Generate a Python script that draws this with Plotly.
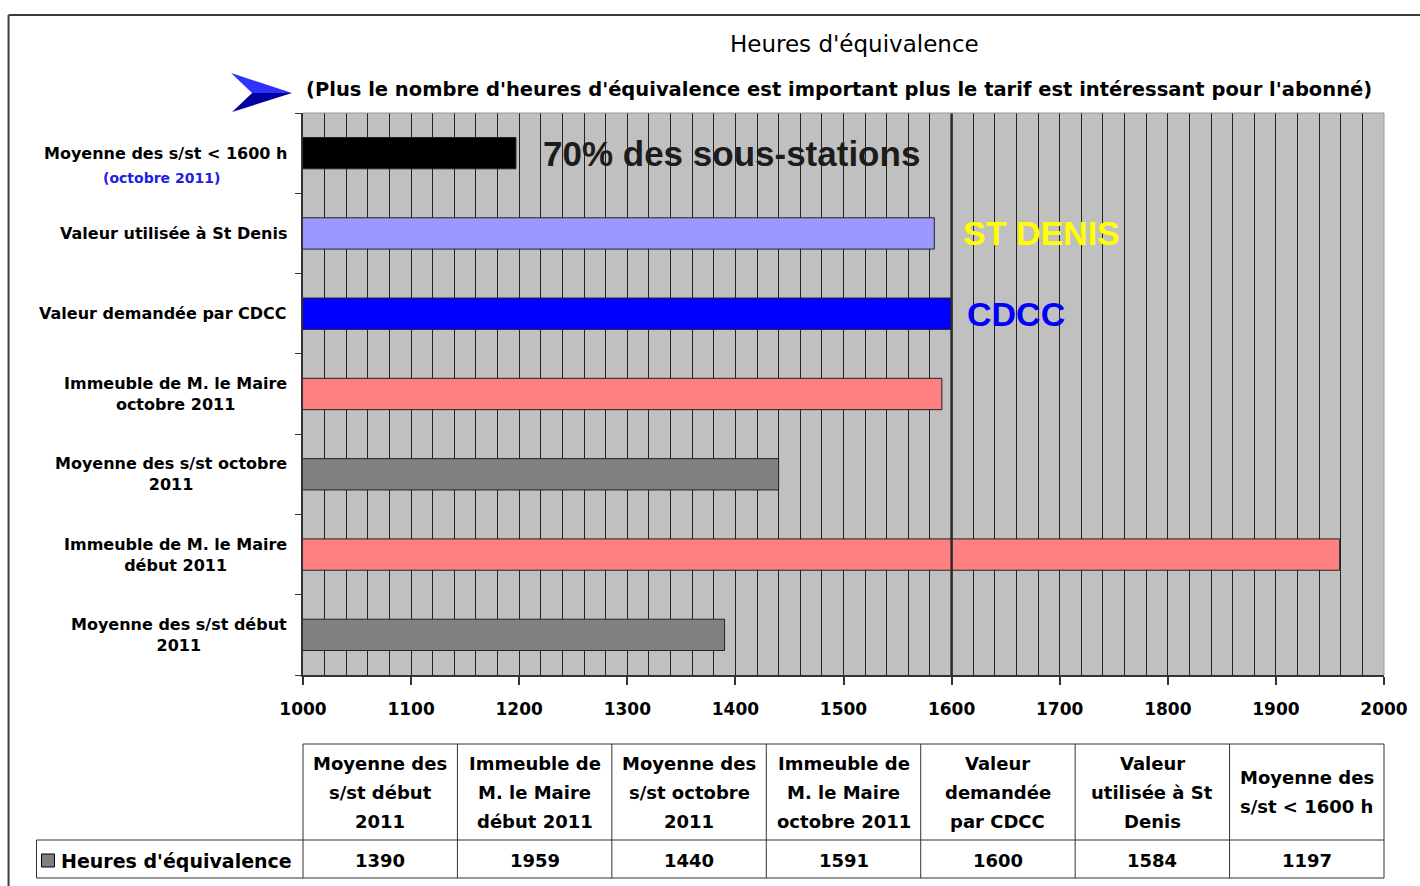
import plotly.graph_objects as go

# ---------------- data ----------------
categories = [
    "Moyenne des s/st début 2011",
    "Immeuble de M. le Maire début 2011",
    "Moyenne des s/st octobre 2011",
    "Immeuble de M. le Maire octobre 2011",
    "Valeur demandée par CDCC",
    "Valeur utilisée à St Denis",
    "Moyenne des s/st < 1600 h",
]
values = [1390, 1959, 1440, 1591, 1600, 1584, 1197]
axis_label_lines = [
    ["Moyenne des s/st début", "2011"],
    ["Immeuble de M. le Maire", "début 2011"],
    ["Moyenne des s/st octobre", "2011"],
    ["Immeuble de M. le Maire", "octobre 2011"],
    ["Valeur demandée par CDCC"],
    ["Valeur utilisée à St Denis"],
    ["Moyenne des s/st < 1600 h"],
]
table_header_lines = [
    ["Moyenne des", "s/st début", "2011"],
    ["Immeuble de", "M. le Maire", "début 2011"],
    ["Moyenne des", "s/st octobre", "2011"],
    ["Immeuble de", "M. le Maire", "octobre 2011"],
    ["Valeur", "demandée", "par CDCC"],
    ["Valeur", "utilisée à St", "Denis"],
    ["Moyenne des", "s/st < 1600 h"],
]
x_ticks = [1000, 1100, 1200, 1300, 1400, 1500, 1600, 1700, 1800, 1900, 2000]
series_name = "Heures d'équivalence"
title_text = "Heures d'équivalence"
subtitle_text = ("(Plus le nombre d'heures d'équivalence est important plus le tarif "
                 "est intéressant pour l'abonné)")
note_first = "(octobre 2011)"
callouts = ["70% des sous-stations", "ST DENIS", "CDCC"]

# ---------------- styles ----------------
bar_colors = ["#808080", "#FF8080", "#808080", "#FF8080", "#0000FF", "#9999FF", "#000000"]

W, H = 1420, 886
L, R, T, B = 303, 34, 113, 211
PW, PH = W - L - R, H - T - B


def fx(p):
    return (p - L) / PW


def fy(p):
    return (H - B - p) / PH


def esc(s):
    return s.replace("<", "&lt;")


FONT = "DejaVu Sans"

fig = go.Figure()
fig.add_trace(go.Bar(
    x=values, y=categories, orientation="h", name=series_name,
    marker=dict(color=bar_colors, line=dict(color="#222222", width=1)),
    width=0.39, showlegend=False, hoverinfo="x+y",
))

shapes = []
annotations = []

# 1600 reference line
shapes.append(dict(type="line", xref="x", yref="paper", x0=1600, x1=1600, y0=0, y1=1,
                   line=dict(color="#2a2a2a", width=2.5), layer="above"))
# top/right plot border
shapes.append(dict(type="line", xref="paper", yref="paper", x0=0, x1=1, y0=1, y1=1,
                   line=dict(color="#9a9a9a", width=1)))
shapes.append(dict(type="line", xref="paper", yref="paper", x0=1, x1=1, y0=0, y1=1,
                   line=dict(color="#9a9a9a", width=1)))
# outer frame
shapes.append(dict(type="line", xref="paper", yref="paper", x0=fx(8), x1=fx(1425), y0=fy(15), y1=fy(15),
                   line=dict(color="#3c3c3c", width=2)))
shapes.append(dict(type="line", xref="paper", yref="paper", x0=fx(8), x1=fx(8), y0=fy(15), y1=fy(890),
                   line=dict(color="#3c3c3c", width=2)))

# arrow (two halves)
def path(pts):
    return "M " + " L ".join(f"{fx(a):.5f},{fy(b):.5f}" for a, b in pts) + " Z"

shapes.append(dict(type="path", xref="paper", yref="paper",
                   path=path([(231, 73), (292, 93), (252, 93)]),
                   fillcolor="#3030FF", line=dict(width=0)))
shapes.append(dict(type="path", xref="paper", yref="paper",
                   path=path([(252, 93), (292, 93), (232, 112)]),
                   fillcolor="#0000A0", line=dict(width=0)))

# table grid
tc = "#333333"
shapes.append(dict(type="line", xref="paper", yref="paper", x0=0, x1=1, y0=fy(744), y1=fy(744),
                   line=dict(color=tc, width=1)))
for yy in (840, 878):
    shapes.append(dict(type="line", xref="paper", yref="paper", x0=fx(36), x1=1, y0=fy(yy), y1=fy(yy),
                       line=dict(color=tc, width=1)))
shapes.append(dict(type="line", xref="paper", yref="paper", x0=fx(36), x1=fx(36), y0=fy(840), y1=fy(878),
                   line=dict(color=tc, width=1)))
n = len(categories)
for i in range(n + 1):
    shapes.append(dict(type="line", xref="paper", yref="paper", x0=i / n, x1=i / n, y0=fy(744), y1=fy(878),
                       line=dict(color=tc, width=1)))
# legend key
shapes.append(dict(type="rect", xref="paper", yref="paper", x0=fx(41), x1=fx(54), y0=fy(867), y1=fy(854),
                   fillcolor="#808080", line=dict(color="#000000", width=1)))

# table header and values
for i, lines in enumerate(table_header_lines):
    k = len(lines)
    for j, ln in enumerate(lines):
        ypix = 792 + (j - (k - 1) / 2) * 29
        annotations.append(dict(xref="paper", yref="paper", x=(i + 0.5) / n, y=fy(ypix),
                                text="<b>" + esc(ln) + "</b>", showarrow=False,
                                xanchor="center", yanchor="middle",
                                font=dict(family=FONT, size=18, color="#000")))
    annotations.append(dict(xref="paper", yref="paper", x=(i + 0.5) / n, y=fy(860),
                            text="<b>" + str(values[i]) + "</b>", showarrow=False,
                            xanchor="center", yanchor="middle",
                            font=dict(family=FONT, size=18, color="#000")))
annotations.append(dict(xref="paper", yref="paper", x=fx(59), y=fy(861),
                        text="<b>" + series_name + "</b>", showarrow=False,
                        xanchor="left", yanchor="middle",
                        font=dict(family=FONT, size=19, color="#000")))

# category labels
for i, lines in enumerate(axis_label_lines):
    annotations.append(dict(xref="paper", yref="y", x=fx(289), y=categories[i],
                            text="<br>".join("<b>" + esc(l) + "</b>" for l in lines),
                            showarrow=False, xanchor="right", yanchor="middle", align="center",
                            font=dict(family=FONT, size=16, color="#000")))
annotations.append(dict(xref="paper", yref="y", x=fx(161), y=categories[-1], yshift=-25,
                        text="<b>" + note_first + "</b>", showarrow=False,
                        xanchor="center", yanchor="middle",
                        font=dict(family=FONT, size=14, color="#2020E0")))

# callouts
annotations.append(dict(xref="x", yref="y", x=1220, y=categories[6], text="<b>" + callouts[0] + "</b>",
                        showarrow=False, xanchor="left", yanchor="middle",
                        font=dict(family="Liberation Sans", size=35, color="#1c1c1c")))
annotations.append(dict(xref="x", yref="y", x=1609, y=categories[5], text="<b>" + callouts[1] + "</b>",
                        showarrow=False, xanchor="left", yanchor="middle",
                        font=dict(family="Liberation Sans", size=34, color="#FFFF00")))
annotations.append(dict(xref="x", yref="y", x=1612, y=categories[4], text="<b>" + callouts[2] + "</b>",
                        showarrow=False, xanchor="left", yanchor="middle",
                        font=dict(family="Liberation Sans", size=34, color="#0000FF")))

# titles
annotations.append(dict(xref="paper", yref="paper", x=fx(856), y=fy(44), text=title_text,
                        showarrow=False, xanchor="center", yanchor="middle",
                        font=dict(family=FONT, size=23, color="#000")))
annotations.append(dict(xref="paper", yref="paper", x=fx(840), y=fy(90), text="<b>" + subtitle_text + "</b>",
                        showarrow=False, xanchor="center", yanchor="middle",
                        font=dict(family=FONT, size=19.5, color="#000")))

fig.update_layout(
    width=W, height=H, autosize=False,
    margin=dict(l=L, r=R, t=T, b=B, pad=0),
    paper_bgcolor="#FFFFFF", plot_bgcolor="#C0C0C0",
    shapes=shapes, annotations=annotations,
    bargap=0.5, showlegend=False,
    xaxis=dict(range=[1000, 2000], tickmode="array", tickvals=x_ticks,
               ticktext=["<b>%d</b>" % v for v in x_ticks],
               ticks="outside", ticklen=8, tickcolor="#333", tickwidth=1.5,
               showline=True, linecolor="#333", linewidth=1.5,
               showgrid=True, gridcolor="#222", gridwidth=1,
               minor=dict(tickmode="linear", tick0=1000, dtick=20, showgrid=True,
                          gridcolor="#222", gridwidth=1, ticks=""),
               zeroline=False, ticklabelstandoff=10,
               tickfont=dict(family=FONT, size=17, color="#000")),
    yaxis=dict(type="category", categoryorder="array", categoryarray=categories,
               range=[-0.5, len(categories) - 0.5],
               ticks="outside", tickson="boundaries", ticklen=6, tickcolor="#333",
               showticklabels=False, showline=True, linecolor="#333", linewidth=1.5,
               showgrid=False, zeroline=False),
)

fig.write_html("out.html", config={"displayModeBar": False},
               post_script="document.body.style.margin='0';")
